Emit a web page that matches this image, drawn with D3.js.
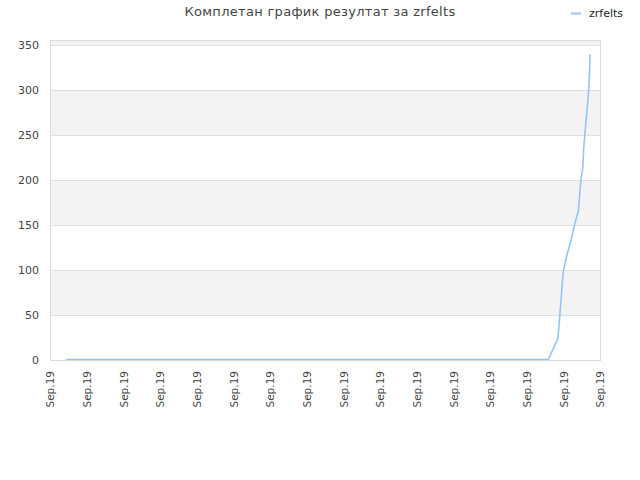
<!DOCTYPE html>
<html>
<head>
<meta charset="utf-8">
<script src="https://cdn.jsdelivr.net/npm/d3@7"></script>
<style>
  body { margin: 0; background: #fff; }
  svg text { font-family: "DejaVu Sans", sans-serif; }
</style>
</head>
<body>
<svg id="chart" width="640" height="480"></svg>
<script>
// Chart data: day index on the x axis, cumulative result on the y axis.
const seriesName = "zrfelts";
const days = [4.4, 135.9, 138.5, 138.9, 139.3, 139.8, 140.1, 140.9, 142.0, 143.2, 144.1,
              144.8, 145.3, 145.6, 145.9, 146.4, 146.8, 147.1, 147.3];
const values = [0, 0, 23, 41, 63, 89, 100, 115, 131, 152, 165,
                200, 213, 237, 252, 274, 293, 315, 339];
const xTicks = d3.range(0, 151, 10);
const xTickLabel = "Sep.19";
const yTicks = [0, 50, 100, 150, 200, 250, 300, 350];
const title = "Комплетан график резултат за zrfelts";

const svg = d3.select("#chart");
const m = { left: 50, right: 600, top: 40, bottom: 360 };

const x = d3.scaleLinear().domain([0, 150]).range([m.left, m.right]);
const y = d3.scaleLinear().domain([0, 350]).range([m.bottom, 45]);
const yTop = y.invert(m.top);

// Alternating bands (white / light grey), last one is the partial top strip.
const bands = yTicks.map((v, i) => ({ lo: v, hi: Math.min(v + 50, yTop), grey: i % 2 === 1 }));
svg.append("g").selectAll("rect")
  .data(bands)
  .join("rect")
  .attr("x", m.left)
  .attr("width", m.right - m.left)
  .attr("y", d => y(d.hi))
  .attr("height", d => y(d.lo) - y(d.hi))
  .attr("fill", d => d.grey ? "#f3f3f3" : "#ffffff");

// Horizontal grid lines.
svg.append("g").selectAll("line")
  .data(yTicks.slice(1))
  .join("line")
  .attr("x1", m.left).attr("x2", m.right)
  .attr("y1", d => y(d) + 0.5).attr("y2", d => y(d) + 0.5)
  .attr("stroke", "#e0e0e0");

// Plot frame.
svg.append("rect")
  .attr("x", m.left + 0.5).attr("y", m.top + 0.5)
  .attr("width", m.right - m.left).attr("height", m.bottom - m.top)
  .attr("fill", "none").attr("stroke", "#dcdcdc");

// Y axis labels.
const yAxis = d3.axisLeft(y).tickValues(yTicks).tickSize(0).tickPadding(11);
svg.append("g")
  .attr("transform", `translate(${m.left},0)`)
  .call(yAxis)
  .call(g => g.select(".domain").remove())
  .call(g => g.selectAll("text").attr("fill", "#444").attr("font-size", 11));

// X axis labels, rotated.
const xAxis = d3.axisBottom(x).tickValues(xTicks).tickSize(0).tickFormat(() => xTickLabel);
svg.append("g")
  .attr("transform", `translate(0,${m.bottom})`)
  .call(xAxis)
  .call(g => g.select(".domain").remove())
  .call(g => g.selectAll("text")
    .attr("fill", "#444").attr("font-size", 10.5)
    .attr("text-anchor", "end")
    .attr("transform", "rotate(-90)")
    .attr("x", -11).attr("y", 0).attr("dy", "0.35em"));

// Series line.
const pts = days.map((d, i) => [d, values[i]]);
svg.append("path")
  .datum(pts)
  .attr("fill", "none")
  .attr("stroke", "#92c5f5")
  .attr("stroke-width", 1.6)
  .attr("d", d3.line().x(d => x(d[0])).y(d => y(d[1]) - 0.5));

// Title.
svg.append("text")
  .attr("x", 320).attr("y", 16)
  .attr("text-anchor", "middle")
  .attr("font-size", 13)
  .attr("letter-spacing", 0.3)
  .attr("fill", "#444")
  .text(title);

// Legend.
const lg = svg.append("g").attr("transform", "translate(571,13)");
lg.append("line").attr("x1", 0).attr("x2", 10).attr("y1", 0.5).attr("y2", 0.5)
  .attr("stroke", "#92c5f5").attr("stroke-width", 2);
lg.append("text").attr("x", 18).attr("y", 0).attr("dy", "0.35em")
  .attr("font-size", 11).attr("fill", "#222").text(seriesName);
</script>
</body>
</html>
